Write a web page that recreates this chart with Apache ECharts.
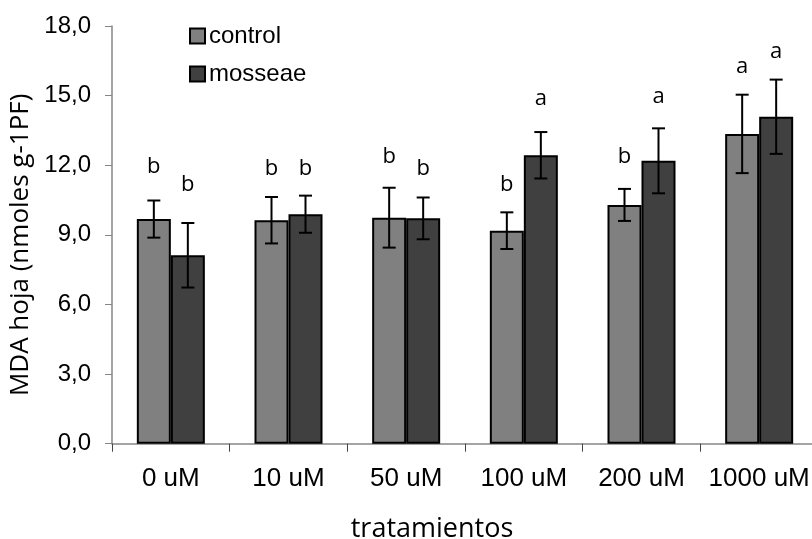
<!DOCTYPE html>
<html>
<head>
<meta charset="utf-8">
<script src="https://cdn.jsdelivr.net/npm/echarts@6/dist/echarts.min.js"></script>
<style>html,body{margin:0;padding:0;background:#fff}#c{width:812px;height:539px}</style>
</head>
<body>
<div id="c"></div>
<script>
const categories = ['0 uM', '10 uM', '50 uM', '100 uM', '200 uM', '1000 uM'];
const controlValues = [9.68, 9.63, 9.74, 9.18, 10.29, 13.35];
const controlErrors = [0.80, 1.00, 1.29, 0.79, 0.69, 1.69];
const mosseaeValues = [8.12, 9.89, 9.71, 12.43, 12.19, 14.09];
const mosseaeErrors = [1.39, 0.80, 0.90, 1.00, 1.40, 1.60];
const controlLetters = ['b', 'b', 'b', 'b', 'b', 'a'];
const mosseaeLetters = ['b', 'b', 'b', 'a', 'a', 'a'];
const controlLetterY = [11.94, 11.84, 12.38, 11.15, 12.38, 16.25];
const mosseaeLetterY = [11.15, 11.84, 11.87, 14.85, 14.96, 16.90];
const yTicks = [0, 3, 6, 9, 12, 15, 18];

const BAR_W = 34;
const chart = echarts.init(document.getElementById('c'));

function errSeries(values, errors, letters, letterY, side) {
  return {
    type: 'custom',
    z: 10,
    data: values.map((v, i) => [i, v, errors[i], letterY[i]]),
    renderItem: function (params, api) {
      const i = api.value(0), v = api.value(1), e = api.value(2), ly = api.value(3);
      const off = side * BAR_W / 2;
      const top = api.coord([i, v + e]);
      const bot = api.coord([i, v - e]);
      const lp = api.coord([i, ly]);
      const x = top[0] + off;
      const cap = 6.5;
      const st = { stroke: '#000', lineWidth: 2 };
      return {
        type: 'group',
        children: [
          { type: 'line', shape: { x1: x, y1: top[1], x2: x, y2: bot[1] }, style: st },
          { type: 'line', shape: { x1: x - cap, y1: top[1], x2: x + cap, y2: top[1] }, style: st },
          { type: 'line', shape: { x1: x - cap, y1: bot[1], x2: x + cap, y2: bot[1] }, style: st },
          { type: 'text', x: x, y: lp[1], style: { text: letters[params.dataIndex], fill: '#000', font: '22px "Open Sans"', align: 'center', verticalAlign: 'middle' } }
        ]
      };
    }
  };
}

chart.setOption({
  animation: false,
  backgroundColor: '#fff',
  grid: { left: 112, top: 26, width: 706, height: 417.7, containLabel: false, outerBoundsMode: 'none' },
  legend: {
    orient: 'vertical', left: 184, top: 19,
    itemWidth: 15, itemHeight: 15, itemGap: 14,
    icon: 'rect',
    data: ['control', 'mosseae'],
    textStyle: { fontFamily: 'Liberation Sans', fontSize: 24, color: '#000', padding: [0, 0, 0, -1] },
    itemStyle: { borderColor: '#000', borderWidth: 2 }
  },
  xAxis: {
    type: 'category',
    data: categories,
    name: 'tratamientos',
    nameLocation: 'middle',
    nameGap: 72,
    nameTextStyle: { fontFamily: 'Open Sans', fontSize: 27, color: '#000', padding: [0, 66, 0, 0] },
    axisLine: { lineStyle: { color: '#868686', width: 1.5 } },
    axisTick: { show: true, length: 8, lineStyle: { color: '#444', width: 1 } },
    axisLabel: { fontFamily: 'Liberation Sans', fontSize: 26, color: '#000', margin: 22, interval: 0, hideOverlap: false }
  },
  yAxis: {
    type: 'value',
    min: 0, max: 18, interval: 3,
    name: 'MDA hoja (nmoles g-1PF)',
    nameLocation: 'middle',
    nameGap: 65,
    nameTextStyle: { fontFamily: 'Open Sans', fontSize: 26, color: '#000', padding: [0, 20, 0, 0] },
    axisLine: { show: true, lineStyle: { color: '#868686', width: 1.5 } },
    axisTick: { show: true, length: 7, lineStyle: { color: '#868686' } },
    splitLine: { show: false },
    axisLabel: {
      fontFamily: 'Liberation Sans', fontSize: 24, color: '#000', margin: 21,
      formatter: v => yTicks.includes(v) ? v.toFixed(1).replace('.', ',') : ''
    }
  },
  series: [
    { name: 'control', type: 'bar', data: controlValues, barWidth: BAR_W, barGap: '0%',
      itemStyle: { color: '#808080', borderColor: '#000', borderWidth: 2 } },
    { name: 'mosseae', type: 'bar', data: mosseaeValues, barWidth: BAR_W, barGap: '0%',
      itemStyle: { color: '#404040', borderColor: '#000', borderWidth: 2 } },
    errSeries(controlValues, controlErrors, controlLetters, controlLetterY, -1),
    errSeries(mosseaeValues, mosseaeErrors, mosseaeLetters, mosseaeLetterY, 1)
  ]
});
</script>
</body>
</html>
